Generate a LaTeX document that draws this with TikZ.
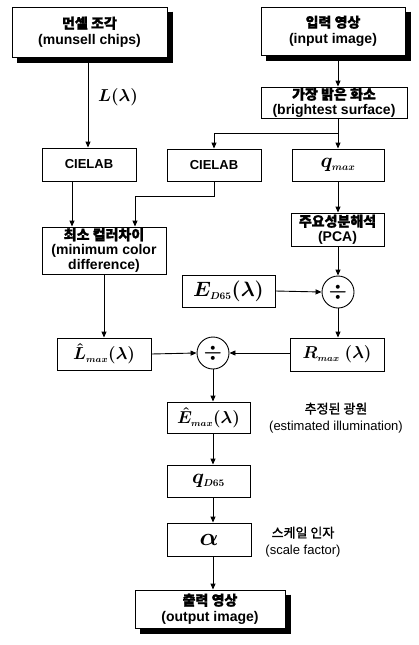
\documentclass[tikz,border=0pt]{standalone}
\usepackage{amsmath}
\usepackage{fontspec}
\setmainfont{Liberation Sans}
\newfontfamily\krb{Noto Sans CJK KR}[FakeBold=1.5]
\usetikzlibrary{arrows.meta,calc}
\begin{document}
\begin{tikzpicture}[x=1pt,y=-1pt,
  bx/.style={draw, line width=0.9pt, fill=white, inner sep=0pt, align=center,
    font=\fontsize{14}{16}\selectfont\bfseries},
  mbx/.style={draw, line width=0.9pt, fill=white, inner sep=0pt, align=center,
    font=\fontsize{18}{20}\selectfont\boldmath},
  shadowline/.style={draw=black, line width=5pt, line join=miter, line cap=butt},
  circ/.style={draw, circle, minimum size=32pt, inner sep=0pt, line width=0.9pt, fill=white,
    font=\fontsize{22}{22}\selectfont\boldmath},
  lab/.style={align=center, font=\fontsize{13}{17}\selectfont},
  arr/.style={-{Triangle[length=6pt,width=5pt]}, line width=0.9pt}]
\useasboundingbox (0,0) rectangle (419,645);

% nodes
\node[bx, minimum width=155pt, minimum height=50pt] (chips) at (89.5,32) {{\krb 먼셀 조각}\\(munsell chips)};
\node[bx, minimum width=144pt, minimum height=48pt] (inp) at (333,31) {{\krb 입력 영상}\\(input image)};
\node[bx, minimum width=146pt, minimum height=31pt, font=\fontsize{14}{15}\selectfont\bfseries] (bright) at (334,102.5) {{\krb 가장 밝은 화소}\\(brightest surface)};
\node[bx, minimum width=94pt, minimum height=33pt, font=\fontsize{13}{15}\selectfont\bfseries] (cie1) at (89,164.5) {CIELAB};
\node[bx, minimum width=94pt, minimum height=32pt, font=\fontsize{13}{15}\selectfont\bfseries] (cie2) at (214,165) {CIELAB};
\node[mbx, minimum width=92pt, minimum height=32pt, font=\fontsize{20}{20}\selectfont\boldmath] (qmax) at (338,165) {$q_{\scriptscriptstyle max}$};
\node[bx, minimum width=93pt, minimum height=33pt, font=\fontsize{14}{15}\selectfont\bfseries] (pca) at (337.5,229.5) {{\krb 주요성분해석}\\(PCA)};
\node[bx, minimum width=124pt, minimum height=47pt, font=\fontsize{14}{15}\selectfont\bfseries] (mcd) at (104,250.5) {{\krb 최소 컬러차이}\\(minimum color\\difference)};
\node[mbx, minimum width=93pt, minimum height=32pt, font=\fontsize{20}{20}\selectfont\boldmath] (ed65) at (228.5,291) {$E_{\scriptscriptstyle D65}(\lambda)$};
\node[circ] (c1) at (338,292) {$\div$};
\node[mbx, minimum width=94pt, minimum height=33pt] (rmax) at (337,354.5) {$R_{\scriptscriptstyle max}\ (\lambda)$};
\node[circ] (c2) at (213,353) {$\div$};
\node[mbx, minimum width=94pt, minimum height=32pt] (lhat) at (104,354) {$\hat{L}_{\scriptscriptstyle max}(\lambda)$};
\node[mbx, minimum width=83pt, minimum height=31pt] (ehat) at (208.5,417.5) {$\hat{E}_{\scriptscriptstyle max}(\lambda)$};
\node[mbx, minimum width=83pt, minimum height=32pt, font=\fontsize{20}{20}\selectfont\boldmath] (qd65) at (208.5,481) {$q_{\scriptscriptstyle D65}$};
\node[mbx, minimum width=84pt, minimum height=33pt, font=\fontsize{30}{30}\selectfont\boldmath] (alpha) at (209,539.5) {$\alpha$};
\node[bx, minimum width=150pt, minimum height=38pt] (out) at (210,609) {{\krb 출력 영상}\\(output image)};

\node[lab] (lab1) at (336,418) {{\krb 추정된 광원}\\(estimated illumination)};
\node[lab] (lab2) at (303,542) {{\krb 스케일 인자}\\(scale factor)};
\node[font=\fontsize{18}{20}\selectfont\boldmath] (Llab) at (118,97) {$L(\lambda)$};

% drop shadows as thick strokes along the right and bottom sides
\foreach \n in {chips,inp,out}
  \draw[shadowline] ([xshift=3pt,yshift=-5pt]\n.north east)
     -- ([xshift=3pt,yshift=-3pt]\n.south east)
     -- ([xshift=5pt,yshift=-3pt]\n.south west);

% connectors
\draw[arr] (chips.south -| 88,0) -- (cie1.north -| 88,0);
\draw[arr] (inp.south -| c1) -- (bright.north -| c1);
\coordinate (split) at (338,133);
\draw[arr] (bright.south -| c1) -- (qmax.north -| c1);
\draw[arr] (split) -| (cie2.north);
\draw[arr] (cie2.south) -- ++(0,15) -| ([xshift=31pt]mcd.north);
\draw[arr] ([xshift=-17pt]cie1.south) -- ([xshift=-17pt]cie1.south |- mcd.north);
\draw[arr] (qmax.south -| c1) -- (pca.north -| c1);
\draw[arr] (pca.south -| c1) -- (c1.north);
\draw[arr] (ed65.east) -- (c1.west);
\draw[arr] (c1.south) -- (rmax.north -| c1);
\draw[arr] (mcd.south) -- (lhat.north);
\draw[arr] (lhat.east) -- (c2.west);
\draw[arr] (rmax.west |- c2) -- (c2.east);
\draw[arr] (c2.south) -- (ehat.north -| c2);
\draw[arr] (ehat.south -| c2) -- (qd65.north -| c2);
\draw[arr] (qd65.south -| c2) -- (alpha.north -| c2);
\draw[arr] (alpha.south -| c2) -- (out.north -| c2);
\end{tikzpicture}
\end{document}
